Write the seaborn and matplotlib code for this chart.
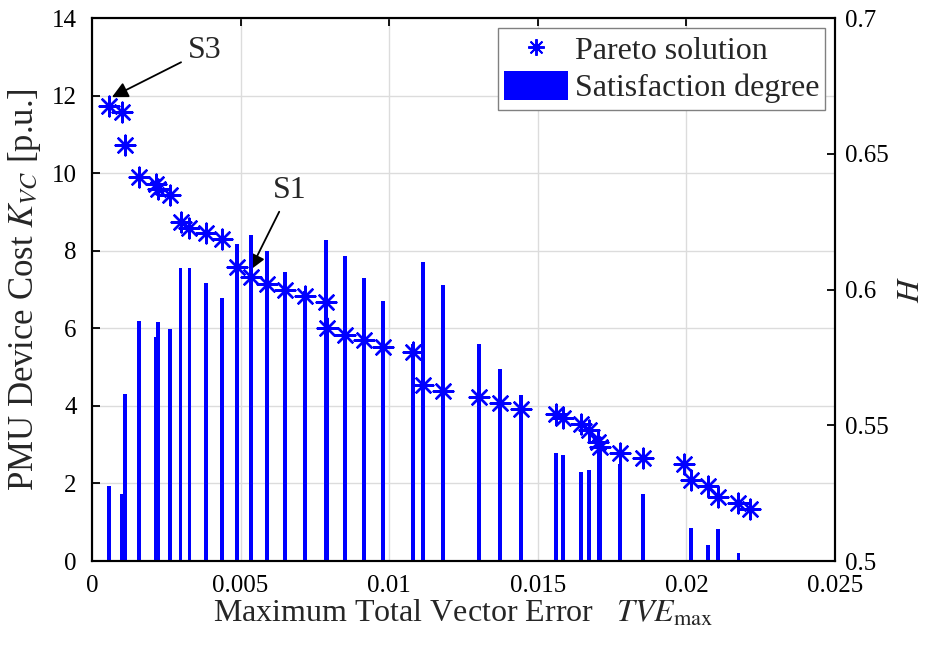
import numpy as np
import matplotlib
matplotlib.use("Agg")
import matplotlib.pyplot as plt
import seaborn as sns
from matplotlib.lines import Line2D
from matplotlib.patches import Patch
from matplotlib.ticker import FuncFormatter

# --- Data ---
tve_max = [0.00057, 0.00102, 0.00111, 0.00159, 0.00214, 0.00221, 0.00262, 0.00298,
           0.00328, 0.00384, 0.00438, 0.00487, 0.00535, 0.00588, 0.00649, 0.00717,
           0.00786, 0.00792, 0.00851, 0.00915, 0.00980, 0.01081, 0.01113, 0.01182,
           0.01303, 0.01373, 0.01443, 0.01562, 0.01585, 0.01644, 0.01671, 0.01704,
           0.01709, 0.01777, 0.01855, 0.01992, 0.02015, 0.02074, 0.02107, 0.02175,
           0.02214]
cost_kvc = [11.73, 11.58, 10.72, 9.89, 9.73, 9.59, 9.43, 8.75, 8.59, 8.45, 8.29,
            7.59, 7.31, 7.14, 7.00, 6.84, 6.68, 6.00, 5.84, 5.70, 5.52, 5.39, 4.54,
            4.39, 4.23, 4.08, 3.93, 3.80, 3.70, 3.54, 3.39, 3.07, 2.95, 2.79, 2.65,
            2.49, 2.09, 1.93, 1.64, 1.49, 1.33]
satisfaction_h = [0.5277, 0.5246, 0.5614, 0.5884, 0.5826, 0.5879, 0.5853, 0.6081,
                  0.6081, 0.6024, 0.5967, 0.6166, 0.6200, 0.6141, 0.6063, 0.5993,
                  0.6181, 0.5890, 0.6123, 0.6044, 0.5959, 0.5800, 0.6101, 0.6016,
                  0.5801, 0.5707, 0.5611, 0.5397, 0.5390, 0.5327, 0.5336, 0.5429,
                  0.5414, 0.5357, 0.5246, 0.5000, 0.5123, 0.5060, 0.5117, 0.5030,
                  0.5000]
x_ticks = [0, 0.005, 0.01, 0.015, 0.02, 0.025]
left_ticks = [0, 2, 4, 6, 8, 10, 12, 14]
right_ticks = [0.5, 0.55, 0.6, 0.65, 0.7]

sns.set_style("white")
plt.rcParams["font.family"] = ["Liberation Serif", "DejaVu Serif"]
plt.rcParams["mathtext.fontset"] = "stix"
plt.rcParams["xtick.direction"] = "in"
plt.rcParams["ytick.direction"] = "in"

BLUE = "#0000ff"
ASTERISK = (8, 2, 0)

fig = plt.figure(figsize=(9.33, 6.58), dpi=100)
ax = fig.add_axes([0.0986, 0.1474, 0.7964, 0.8252])
ax2 = ax.twinx()

# Pareto front (left axis)
sns.scatterplot(x=tve_max, y=cost_kvc, ax=ax, marker=ASTERISK, s=200,
                color=BLUE, edgecolor=BLUE, linewidth=1.7, zorder=3, legend=False)

# Satisfaction degree bars (right axis)
h = np.array(satisfaction_h)
ax2.bar(tve_max, h - 0.5, bottom=0.5, width=0.00013, color=BLUE,
        edgecolor="none", zorder=2)

ax.set_xlim(0, 0.025)
ax.set_ylim(0, 14)
ax2.set_ylim(0.5, 0.7)
ax.set_xticks(x_ticks)
ax.set_yticks(left_ticks)
ax2.set_yticks(right_ticks)
ax.xaxis.set_major_formatter(FuncFormatter(lambda v, p: f"{v:g}"))
ax2.yaxis.set_major_formatter(FuncFormatter(lambda v, p: f"{v:g}"))

ax.grid(True, color="#dcdcdc", linewidth=1.0)
ax.set_axisbelow(True)

for a in (ax, ax2):
    for s in a.spines.values():
        s.set_linewidth(1.5)
        s.set_color("black")
    a.tick_params(labelsize=18, length=6, width=1.3, colors="black")
ax.tick_params(top=True, labeltop=False)
ax.tick_params(axis="x", pad=10)
ax.tick_params(axis="y", pad=11)
ax2.tick_params(axis="y", pad=7)

ax.set_xlabel(r"Maximum Total Vector Error   $TVE_{\mathrm{max}}$", fontsize=23,
              labelpad=1)
ax.set_ylabel(r"PMU Device Cost $K_{VC}$ [p.u.]", fontsize=25, labelpad=6)
ax2.set_ylabel(r"$H$", fontsize=23, labelpad=6)

# annotations
ax.annotate("S3", xy=(0.00067, 11.96), xytext=(0.0038, 13.17), fontsize=23,
            ha="center", va="center",
            arrowprops=dict(arrowstyle="-|>", color="black", lw=1.3,
                            mutation_scale=24, shrinkA=3, shrinkB=0))
ax.annotate("S1", xy=(0.00532, 7.5), xytext=(0.00666, 9.56), fontsize=23,
            ha="center", va="center",
            arrowprops=dict(arrowstyle="-|>", color="black", lw=1.3,
                            mutation_scale=24, shrinkA=3, shrinkB=0))

handles = [Line2D([], [], linestyle="none", marker=ASTERISK, markersize=12,
                  markeredgewidth=1.4, color=BLUE, label="Pareto solution"),
           Patch(facecolor=BLUE, edgecolor="none", label="Satisfaction degree")]
leg = ax2.legend(handles=handles, loc="upper right", fancybox=False,
                 prop={"family": "Liberation Serif", "size": 23},
                 edgecolor="#808080", framealpha=1, borderaxespad=0.3,
                 handlelength=2.0, handleheight=1.0, handletextpad=0.2,
                 borderpad=0.2, labelspacing=0.15)
leg.get_frame().set_linewidth(1.0)

fig.savefig("out.png", dpi=100)
